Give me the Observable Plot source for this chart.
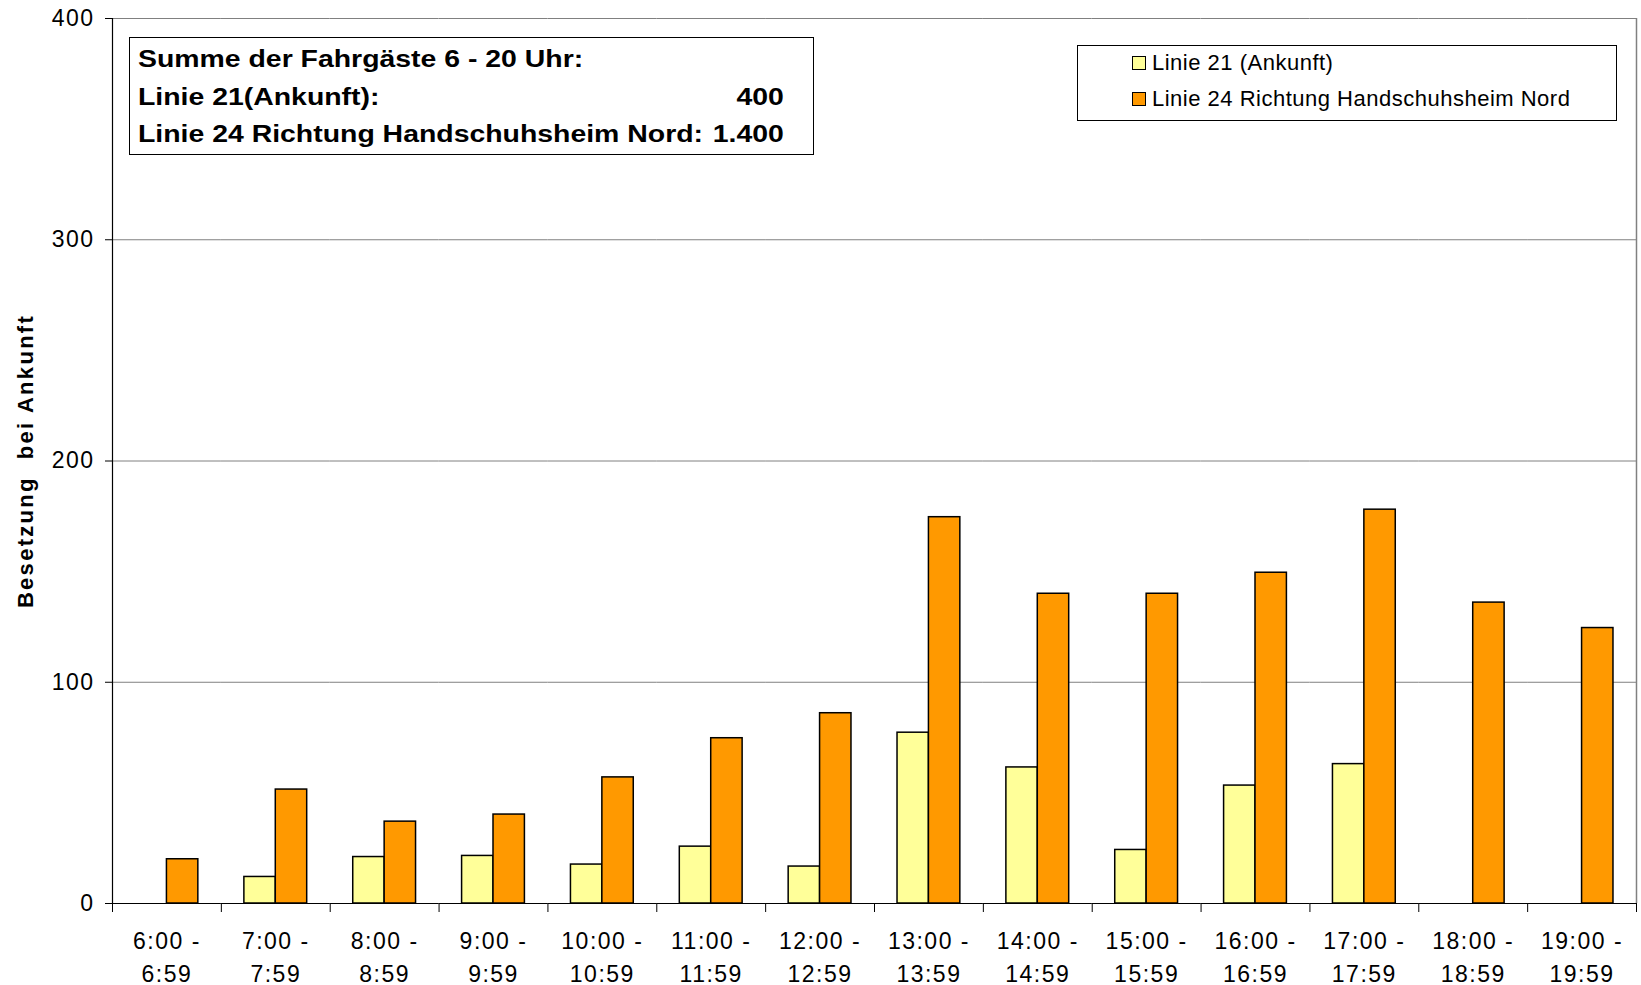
<!DOCTYPE html>
<html><head><meta charset="utf-8">
<script src="https://cdn.jsdelivr.net/npm/d3@7"></script>
<script src="https://cdn.jsdelivr.net/npm/@observablehq/plot@0.6"></script>
<style>
html,body{margin:0;padding:0;background:#fff;}
#wrap{position:relative;width:1641px;height:985px;font-family:"Liberation Sans",Arial,sans-serif;color:#000;}
#summary{position:absolute;left:129px;top:37px;width:685px;height:118px;box-sizing:border-box;border:1.5px solid #000;background:#fff;}
#summary .txt{position:absolute;left:8px;top:3px;width:523px;font-weight:bold;font-size:23px;line-height:37.5px;transform:scaleX(1.235);transform-origin:0 0;}
#summary .row{display:flex;justify-content:space-between;white-space:nowrap;}
#legend{position:absolute;left:1077px;top:45px;width:540px;height:76px;box-sizing:border-box;border:1px solid #000;background:#fff;}
#legend .item{position:absolute;left:54px;height:24px;display:flex;align-items:center;font-size:22px;letter-spacing:0.5px;white-space:nowrap;}
#legend .sw{width:12px;height:12px;border:1px solid #000;margin-right:6px;flex:none;}
svg text{letter-spacing:1.5px;}
svg g[aria-label="text"] text{letter-spacing:2.3px;}
</style></head><body><div id="wrap"></div>
<script>
const hours = ["6:00 -\n6:59","7:00 -\n7:59","8:00 -\n8:59","9:00 -\n9:59","10:00 -\n10:59","11:00 -\n11:59","12:00 -\n12:59","13:00 -\n13:59","14:00 -\n14:59","15:00 -\n15:59","16:00 -\n16:59","17:00 -\n17:59","18:00 -\n18:59","19:00 -\n19:59"];
const seriesNames = ["Linie 21 (Ankunft)", "Linie 24 Richtung Handschuhsheim Nord"];
const linie21 = [null, 12, 21, 21.5, 17.6, 25.7, 16.7, 77.2, 61.5, 24.2, 53.3, 63, null, null];
const linie24 = [20, 51.5, 37, 40.2, 57, 74.7, 86, 174.6, 140, 140, 149.5, 178, 136, 124.5];
const seriesColors = ["#FFFF99", "#FF9900"];
const yTicks = [0, 100, 200, 300, 400];
const yLabel = "Besetzung\u00a0 bei Ankunft";
const summaryTitle = "Summe der Fahrgäste 6 - 20 Uhr:";
const summaryRows = [["Linie 21(Ankunft):", "400"], ["Linie 24 Richtung Handschuhsheim Nord:", "1.400"]];

const data = hours.flatMap((h, i) => [
  {hour: h, series: seriesNames[0], value: linie21[i]},
  {hour: h, series: seriesNames[1], value: linie24[i]}
]).filter(d => d.value != null);

const W = 1641, H = 985, mL = 112, mR = 5, mT = 18, mB = 82;
const step = (W - mL - mR) / hours.length;
const first = hours[0];
const last = hours[hours.length - 1];

const chart = Plot.plot({
  width: W, height: H,
  marginLeft: mL, marginRight: mR, marginTop: mT, marginBottom: mB,
  style: {fontFamily: '"Liberation Sans", Arial, sans-serif', fontSize: "23px", background: "#fff", color: "#000", overflow: "visible"},
  fx: {domain: hours, padding: 0, round: false, label: null, axis: null},
  x: {domain: seriesNames, paddingInner: 0, paddingOuter: 0.733, round: false, axis: null},
  y: {domain: [0, 400], label: null, axis: null},
  color: {domain: seriesNames, range: seriesColors},
  marks: [
    Plot.gridY({ticks: yTicks.slice(1), stroke: "#808080", strokeOpacity: 1, strokeWidth: 1}),
    Plot.gridFx({ticks: [last], dx: step / 2, stroke: "#808080", strokeOpacity: 1, strokeWidth: 1.5}),
    Plot.barY(data, {fx: "hour", x: "series", y: "value", fill: "series", stroke: "#000", strokeWidth: 1.5}),
    Plot.ruleY([0], {stroke: "#000", strokeWidth: 1.2}),
    Plot.gridFx({ticks: [first], dx: -step / 2, stroke: "#000", strokeOpacity: 1, strokeWidth: 1.2}),
    Plot.axisY({ticks: yTicks, anchor: "left", tickSize: 7, tickPadding: 11, label: null, stroke: "#000"}),
    Plot.axisFx({anchor: "bottom", tickSize: 0, tickPadding: 23, lineHeight: 1.4, label: null}),
    Plot.axisFx({anchor: "bottom", dx: -step / 2, tickSize: 9, tickFormat: () => "", label: null}),
    Plot.axisFx({anchor: "bottom", ticks: [last], dx: step / 2, tickSize: 9, tickFormat: () => "", label: null}),
    Plot.text([yLabel], {fx: [first], text: d => d, frameAnchor: "left", textAnchor: "middle", dx: -87, rotate: -90, fontWeight: "bold", fontSize: 22})
  ]
});

const wrap = document.getElementById("wrap");
wrap.appendChild(chart);

// summary box
const summary = document.createElement("div");
summary.id = "summary";
const txt = document.createElement("div");
txt.className = "txt";
const r0 = document.createElement("div");
r0.className = "row";
r0.textContent = summaryTitle;
txt.appendChild(r0);
for (const [a, b] of summaryRows) {
  const r = document.createElement("div");
  r.className = "row";
  const sa = document.createElement("span"); sa.textContent = a;
  const sb = document.createElement("span"); sb.textContent = b;
  r.appendChild(sa); r.appendChild(sb);
  txt.appendChild(r);
}
summary.appendChild(txt);
wrap.appendChild(summary);

// legend
const legend = document.createElement("div");
legend.id = "legend";
const rowTops = [5, 41];
seriesNames.forEach((name, i) => {
  const it = document.createElement("div");
  it.className = "item";
  it.style.top = rowTops[i] + "px";
  const sw = document.createElement("span");
  sw.className = "sw";
  sw.style.background = seriesColors[i];
  const t = document.createElement("span");
  t.textContent = name;
  it.appendChild(sw); it.appendChild(t);
  legend.appendChild(it);
});
wrap.appendChild(legend);
</script></body></html>
